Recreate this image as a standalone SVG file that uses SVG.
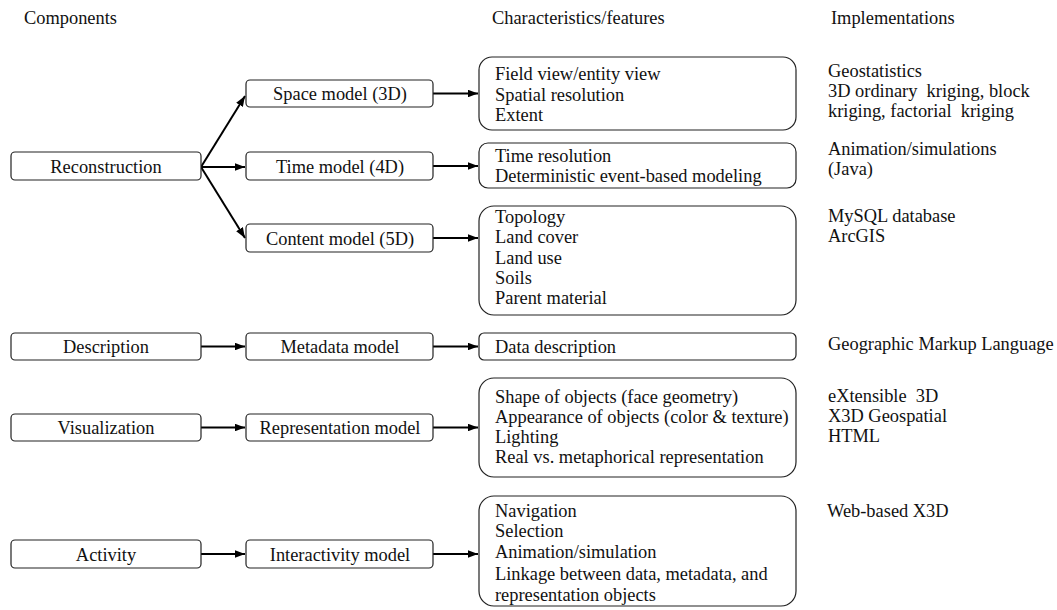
<svg xmlns="http://www.w3.org/2000/svg" width="1057" height="610" viewBox="0 0 1057 610">
<style>
text{font-family:"Liberation Serif","Times New Roman",serif;font-size:18.4px;fill:#111}
.c{text-anchor:middle}
.box{fill:#fff;stroke:#222;stroke-width:1.2}
.conn{stroke:#000;stroke-width:2;fill:none;marker-end:url(#ah)}
</style>
<defs>
<marker id="ah" viewBox="0 0 10 7.5" refX="10" refY="3.75" markerWidth="5.2" markerHeight="3.9" orient="auto" markerUnits="strokeWidth">
<path d="M0,0 L10,3.75 L0,7.5 z" fill="#000"/>
</marker>
</defs>
<rect width="1057" height="610" fill="#fff"/>
<g id="headers">
<text x="24" y="24">Components</text>
<text x="492" y="24">Characteristics/features</text>
<text x="831" y="24">Implementations</text>
</g>
<g id="connectors">
<path class="conn" d="M201,167 L245,96"/>
<path class="conn" d="M201,167 L245,167"/>
<path class="conn" d="M201,167 L245,238"/>
<path class="conn" d="M433,93.5 L478,93.5"/>
<path class="conn" d="M433,166 L478,166"/>
<path class="conn" d="M433,238 L478,238"/>
<path class="conn" d="M201,346.5 L245,346.5"/>
<path class="conn" d="M433,346.5 L478,346.5"/>
<path class="conn" d="M201,427.5 L245,427.5"/>
<path class="conn" d="M433,427.5 L478,427.5"/>
<path class="conn" d="M201,554 L245,554"/>
<path class="conn" d="M433,554 L478,554"/>
</g>
<g id="reconstruction"><rect class="box" x="11" y="152" width="190" height="28" rx="4"/><text class="c" x="106" y="172.5">Reconstruction</text></g>
<g id="description"><rect class="box" x="11" y="333" width="190" height="27" rx="4"/><text class="c" x="106" y="353">Description</text></g>
<g id="visualization"><rect class="box" x="11" y="414" width="190" height="27" rx="4"/><text class="c" x="106" y="434">Visualization</text></g>
<g id="activity"><rect class="box" x="11" y="540" width="190" height="28" rx="4"/><text class="c" x="106" y="560.5">Activity</text></g>
<g id="space-model"><rect class="box" x="246" y="80" width="187" height="27" rx="4"/><text class="c" x="340" y="100">Space model (3D)</text></g>
<g id="time-model"><rect class="box" x="246" y="152" width="187" height="28" rx="4"/><text class="c" x="340" y="172.5">Time model (4D)</text></g>
<g id="content-model"><rect class="box" x="246" y="224" width="187" height="28" rx="4"/><text class="c" x="340" y="244.5">Content model (5D)</text></g>
<g id="metadata-model"><rect class="box" x="246" y="333" width="187" height="27" rx="4"/><text class="c" x="340" y="353">Metadata model</text></g>
<g id="representation-model"><rect class="box" x="246" y="414" width="187" height="27" rx="4"/><text class="c" x="340" y="434">Representation model</text></g>
<g id="interactivity-model"><rect class="box" x="246" y="540" width="187" height="28" rx="4"/><text class="c" x="340" y="560.5">Interactivity model</text></g>
<g id="space-features"><rect class="box" x="479" y="57" width="317" height="73" rx="13"/>
<text x="495" y="80">Field view/entity view</text><text x="495" y="100.5">Spatial resolution</text><text x="495" y="121">Extent</text></g>
<g id="time-features"><rect class="box" x="479" y="143" width="317" height="45" rx="9"/>
<text x="495" y="162">Time resolution</text><text x="495" y="182">Deterministic event-based modeling</text></g>
<g id="content-features"><rect class="box" x="479" y="206" width="317" height="109" rx="15"/>
<text x="495" y="223">Topology</text><text x="495" y="243">Land cover</text><text x="495" y="263.5">Land use</text><text x="495" y="284">Soils</text><text x="495" y="304">Parent material</text></g>
<g id="metadata-features"><rect class="box" x="479" y="333" width="317" height="27" rx="5"/>
<text x="495" y="352.5">Data description</text></g>
<g id="representation-features"><rect class="box" x="479" y="378" width="317" height="99" rx="15"/>
<text x="495" y="403">Shape of objects (face geometry)</text><text x="495" y="423">Appearance of objects (color &amp; texture)</text><text x="495" y="443">Lighting</text><text x="495" y="463">Real vs. metaphorical representation</text></g>
<g id="interactivity-features"><rect class="box" x="479" y="496" width="317" height="110" rx="15"/>
<text x="495" y="517">Navigation</text><text x="495" y="537">Selection</text><text x="495" y="558">Animation/simulation</text><text x="495" y="580">Linkage between data, metadata, and</text><text x="495" y="601">representation objects</text></g>
<g id="implementations">
<text x="828" y="77">Geostatistics</text>
<text x="828" y="97" xml:space="preserve">3D ordinary  kriging, block</text>
<text x="828" y="117" xml:space="preserve">kriging, factorial  kriging</text>
<text x="828" y="155">Animation/simulations</text>
<text x="828" y="175">(Java)</text>
<text x="828" y="222">MySQL database</text>
<text x="828" y="242">ArcGIS</text>
<text x="828" y="350">Geographic Markup Language</text>
<text x="828" y="402" xml:space="preserve">eXtensible  3D</text>
<text x="828" y="422">X3D Geospatial</text>
<text x="828" y="442">HTML</text>
<text x="827" y="517">Web-based X3D</text>
</g>
</svg>
